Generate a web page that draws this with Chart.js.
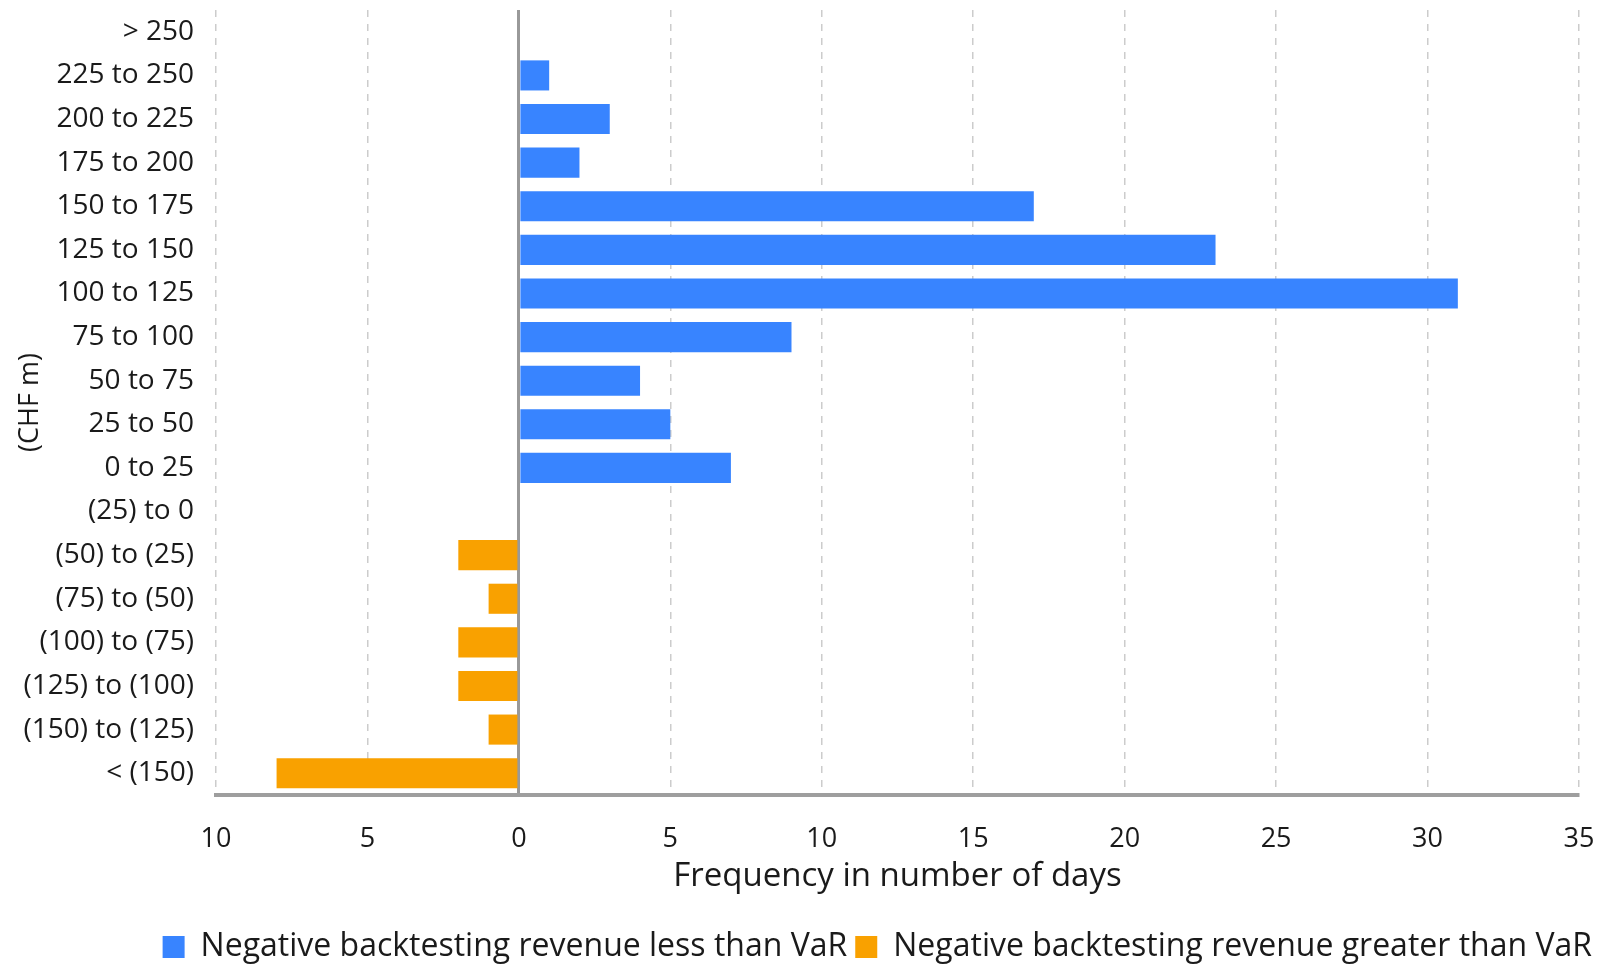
<!DOCTYPE html>
<html>
<head>
<meta charset="utf-8">
<script src="https://cdn.jsdelivr.net/npm/chart.js@4/dist/chart.umd.min.js"></script>
<style>
  html, body { margin: 0; padding: 0; background: #fff; }
  #wrap { width: 1600px; height: 966px; }
</style>
</head>
<body>
<div id="wrap"><canvas id="backtesting"></canvas></div>
<script>
// Revenue buckets, top to bottom
const buckets = [
  '> 250', '225 to 250', '200 to 225', '175 to 200', '150 to 175',
  '125 to 150', '100 to 125', '75 to 100', '50 to 75', '25 to 50',
  '0 to 25', '(25) to 0', '(50) to (25)', '(75) to (50)', '(100) to (75)',
  '(125) to (100)', '(150) to (125)', '< (150)'
];

// Days per bucket; exceedances are plotted to the left of zero
const lessThanVar = [0, 1, 3, 2, 17, 23, 31, 9, 4, 5, 7, 0, 0, 0, 0, 0, 0, 0];
const greaterThanVar = [0, 0, 0, 0, 0, 0, 0, 0, 0, 0, 0, 0, -2, -1, -2, -2, -1, -8];

const xTicks = [-10, -5, 0, 5, 10, 15, 20, 25, 30, 35];

const FONT = '"Open Sans", "Noto Sans", sans-serif';
const BLUE = '#3884ff';
const ORANGE = '#f9a100';

Chart.defaults.font.family = FONT;
Chart.defaults.color = '#1a1a1a';

new Chart(document.getElementById('backtesting'), {
  type: 'bar',
  data: {
    labels: buckets,
    datasets: [
      {
        label: 'Negative backtesting revenue less than VaR',
        data: lessThanVar,
        backgroundColor: BLUE
      },
      {
        label: 'Negative backtesting revenue greater than VaR',
        data: greaterThanVar,
        backgroundColor: ORANGE
      }
    ]
  },
  options: {
    indexAxis: 'y',
    responsive: true,
    maintainAspectRatio: false,
    animation: false,
    layout: {
      padding: {top: 10, right: 0, left: 2, bottom: -7}
    },
    datasets: {
      bar: {categoryPercentage: 1, barPercentage: 0.69}
    },
    scales: {
      x: {
        stacked: true,
        min: -10,
        max: 35,
        afterBuildTicks: scale => {
          scale.ticks = xTicks.map(v => ({value: v}));
        },
        afterFit: scale => {
          // room for the "35" label on the right, ticks + title below
          scale.paddingLeft = 0;
          scale.paddingRight = 21;
          scale.height = 128;
        },
        ticks: {
          font: {size: 27},
          padding: 28,
          callback: value => Math.abs(value)
        },
        grid: {
          drawTicks: false,
          color: ctx => (ctx.tick && ctx.tick.value === 0) ? '#999999' : '#cccccc',
          lineWidth: ctx => (ctx.tick && ctx.tick.value === 0) ? 3 : 1.5
        },
        border: {
          display: true,
          color: '#9e9e9e',
          width: 4,
          dash: ctx => (ctx.tick && ctx.tick.value === 0) ? [] : [7, 7]
        },
        title: {
          display: true,
          text: 'Frequency in number of days',
          font: {size: 33},
          padding: {top: 0, bottom: 27}
        }
      },
      y: {
        stacked: true,
        ticks: {
          font: {size: 28},
          padding: 22
        },
        grid: {display: false, drawTicks: false},
        border: {display: false},
        afterFit: scale => {
          // fixed label column; bars fill the rows so no extra top/bottom room is needed
          scale.width = 214;
          scale.paddingTop = 0;
          scale.paddingBottom = 0;
        },
        title: {
          display: true,
          text: '(CHF m)',
          font: {size: 27},
          padding: {top: 12, bottom: 0}
        }
      }
    },
    plugins: {
      legend: {
        position: 'bottom',
        align: 'end',
        labels: {
          boxWidth: 22,
          boxHeight: 22,
          padding: 8,
          font: {size: 32},
          color: '#1a1a1a'
        }
      },
      tooltip: {enabled: false}
    }
  }
});
</script>
</body>
</html>
